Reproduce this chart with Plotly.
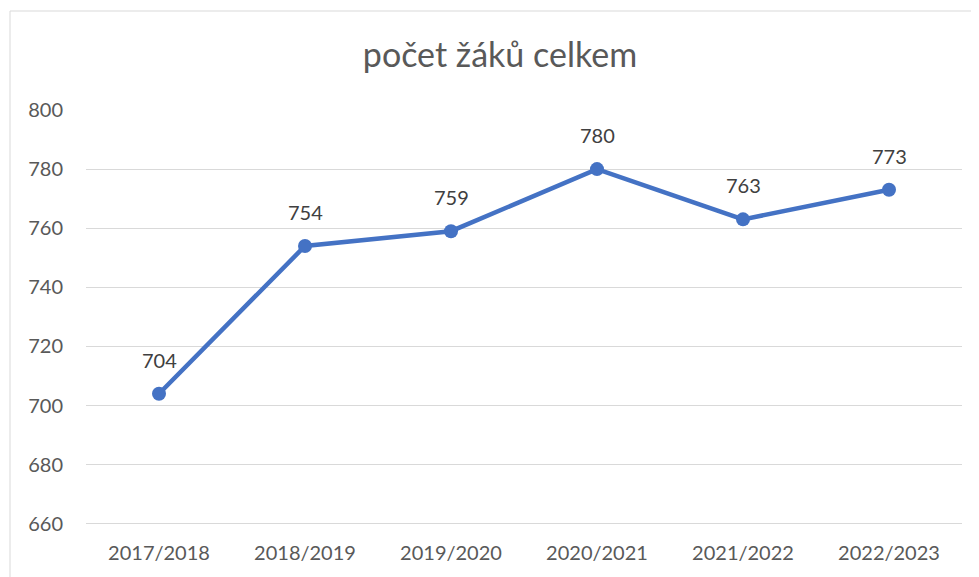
import plotly.graph_objects as go

categories = ["2017/2018", "2018/2019", "2019/2020", "2020/2021", "2021/2022", "2022/2023"]
values = [704, 754, 759, 780, 763, 773]
y_ticks = [660, 680, 700, 720, 740, 760, 780, 800]
title_text = "počet žáků celkem"

FONT = "Lato, Open Sans, sans-serif"
W, H = 979, 577
OFF = 8  # page body margin
L, T = 86 - OFF, 110 - OFF
R = W - (962 - OFF)
B = H - (525 - OFF)
pw, ph = W - L - R, H - T - B

fig = go.Figure()
fig.add_trace(go.Scatter(
    x=categories, y=values, mode="lines+markers",
    line=dict(color="#4472C4", width=4.5),
    marker=dict(color="#4472C4", size=14),
    cliponaxis=False, hoverinfo="skip",
))
for c, v in zip(categories, values):
    fig.add_annotation(x=c, y=v, text=str(v), showarrow=False, yshift=34,
                       font=dict(family=FONT, size=20, color="#404040"))

bx = (10 - OFF - L) / pw
by = (H - B - (11 - OFF)) / ph
fig.add_shape(type="line", xref="paper", yref="paper", x0=bx, x1=bx, y0=-0.3, y1=by,
              line=dict(color="#D9D9D9", width=1))
fig.add_shape(type="line", xref="paper", yref="paper", x0=bx, x1=1.2, y0=by, y1=by,
              line=dict(color="#D9D9D9", width=1))

fig.update_layout(
    width=W, height=H,
    margin=dict(l=L, r=R, t=T, b=B),
    paper_bgcolor="white", plot_bgcolor="white",
    showlegend=False,
    title=dict(text=title_text, x=(500 - OFF) / W, xanchor="center",
               y=1 - (55 - OFF) / H, yanchor="middle",
               font=dict(family=FONT, size=34, color="#595959")),
    xaxis=dict(type="category", range=[-0.5, 5.5], showgrid=False, zeroline=False,
               showline=False, ticks="", ticklabelstandoff=14,
               tickfont=dict(family=FONT, size=20, color="#595959")),
    yaxis=dict(range=[659.6, 800], tickvals=y_ticks, showgrid=True, gridcolor="#D9D9D9",
               gridwidth=1.3, zeroline=False, showline=False, ticks="", ticklabelstandoff=22,
               tickfont=dict(family=FONT, size=20, color="#595959")),
)

fig.write_html("out.html")
